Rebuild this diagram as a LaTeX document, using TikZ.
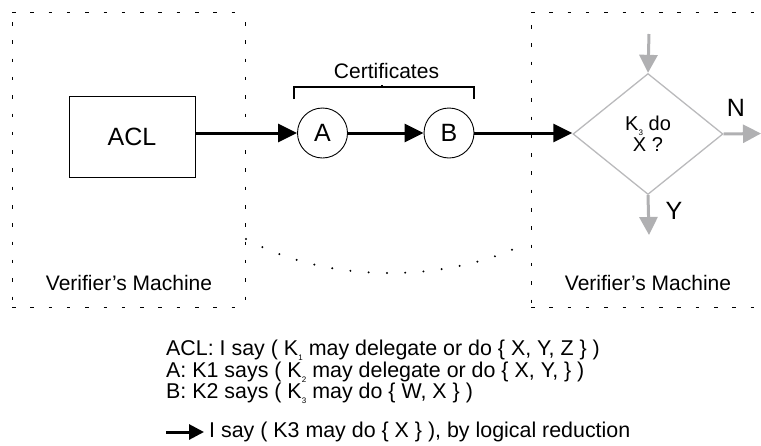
\documentclass[tikz,border=0pt]{standalone}
\usepackage{fontspec}
\setmainfont{Liberation Sans}
\usetikzlibrary{arrows.meta,shapes.geometric}
% K with a small lowered index digit
\newcommand\Ks[1]{K\kern0.2pt\raisebox{-0.45ex}{\fontsize{8}{8}\selectfont #1}}
\definecolor{flowgray}{RGB}{176,176,178}
\definecolor{edgegray}{RGB}{186,186,188}
\tikzset{
  frame/.style={line width=0.9pt, dash pattern=on 3.5pt off 14.8pt},
  cert/.style={circle, draw, line width=0.9pt, minimum size=50pt, inner sep=0pt, font=\fontsize{25}{25}\selectfont},
  flow/.style={line width=3pt, -{Triangle[length=19pt,width=18pt]}},
  grayflow/.style={flowgray, line width=3pt, -{Triangle[length=18pt,width=18pt]}},
  lbl/.style={font=\fontsize{21}{21}\selectfont},
  biglbl/.style={font=\fontsize{25}{25}\selectfont},
  stmt/.style={font=\fontsize{21.4}{19.8}\selectfont},
}
\begin{document}
\begin{tikzpicture}[x=1pt,y=-1pt]
\useasboundingbox (0,0) rectangle (761,445);

% two machine frames
\draw[frame] (12,12) -- (245,12);
\draw[frame] (12,307) -- (245,307);
\draw[frame] (12,22) -- (12,307);
\draw[frame] (245,22) -- (245,307);
\draw[frame] (531,12) -- (761,12);
\draw[frame] (531,307) -- (761,307);
\draw[frame] (531,25) -- (531,307);

\node[lbl] (vm1) at (129,283) {Verifier’s Machine};
\node[lbl] (vm2) at (648,283) {Verifier’s Machine};

% ACL and certificate chain
\node[draw, line width=0.9pt, minimum width=126pt, minimum height=81pt, inner sep=0pt, biglbl] (acl) at (132,136.5) {ACL};
\node[cert] (A) at (322.5,133) {A};
\node[cert] (B) at (449,133) {B};

% decision diamond
\node[diamond, draw=edgegray, line width=1.3pt, minimum width=150pt, minimum height=121pt, inner sep=0pt,
      align=center, font=\fontsize{20}{21}\selectfont] (dec) at (648,134) {\Ks{3} do\\X ?};

\draw[flow] (acl.east |- A.west) -- (A.west);
\draw[flow] (A.east) -- (B.west);
\draw[flow] (B.east) -- (B.east -| dec.west);

% certificate bracket
\coordinate (bl) at (294,99);
\coordinate (br) at (474,99);
\draw[line width=2.6pt] (bl) -- (294,87) -- (474,87) -- (br);
\draw[line width=1.2pt] (382,87) -- (382,84.5);
\node[lbl] (certs) at (386.5,71) {Certificates};

% gray flow arrows
\coordinate (in) at (649,34);
\coordinate (nout) at (761,133.5);
\coordinate (yout) at (649,235);
\draw[grayflow] (in) -- (dec.north);
\draw[grayflow] (dec.east) -- (nout);
\draw[grayflow] (dec.south) -- (yout);
\node[biglbl] (nlbl) at (736,108) {N};
\node[biglbl] (ylbl) at (674,211) {Y};

% dotted arc between the machines
\coordinate (arcL) at (246,239);
\coordinate (arcR) at (518,247);
\draw[line width=2.2pt, line cap=round, dash pattern=on 0pt off 18.3pt]
  (arcL) .. controls (330,285) and (445,281) .. (arcR);

% statements
\node[anchor=north west, align=left, stmt, inner sep=0pt] (stmts) at (166,340)
 {ACL: I say ( \Ks{1} may delegate or do \{ X, Y, Z \} )\\
  A: K1 says ( \Ks{2} may delegate or do \{ X, Y, \} )\\
  B: K2 says ( \Ks{3} may do \{ W, X \} )};
\coordinate (rs) at (166,432);
\node[anchor=west, stmt, inner sep=0pt] (res) at (209,432) {I say ( K3 may do \{ X \} ), by logical reduction};
\draw[line width=3pt, -{Triangle[length=15pt,width=15pt]}] (rs) -- ([xshift=-5pt]res.west);
\end{tikzpicture}
\end{document}
